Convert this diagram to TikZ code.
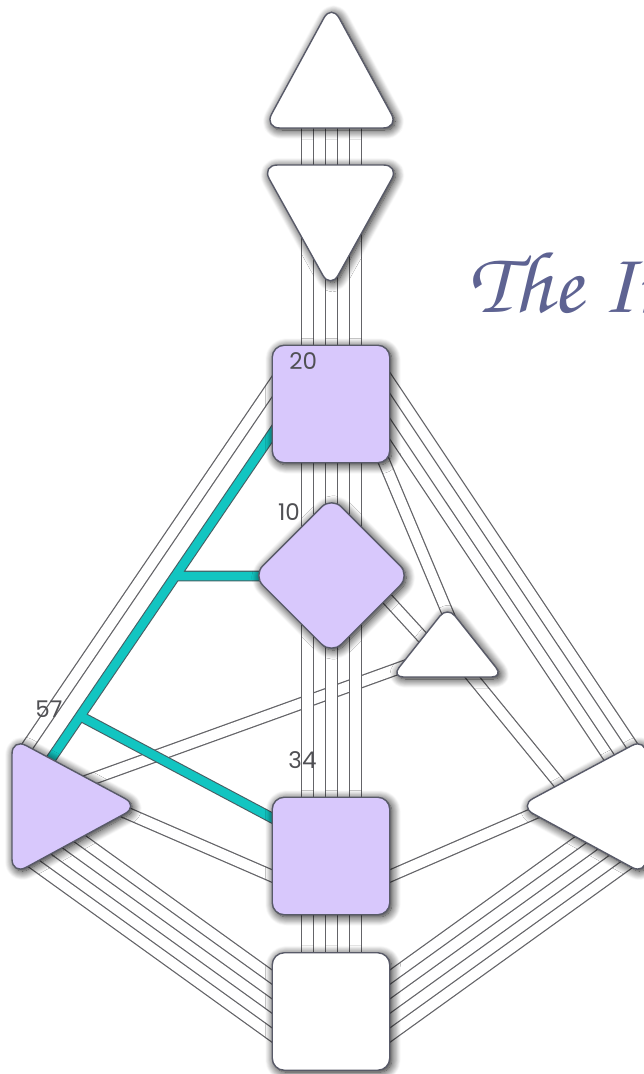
\documentclass[tikz,border=0pt]{standalone}
\usepackage[T1,TU]{fontenc}
\usepackage{fontspec}
\usetikzlibrary{shadows.blur}
\pgfdeclarelayer{background}
\pgfsetlayers{background,main}
\newfontfamily\gatefont{Poppins}
\newcommand{\handfont}{\fontencoding{T1}\fontfamily{pzc}\fontseries{mb}\fontshape{it}\selectfont}
\definecolor{centrefill}{RGB}{216,200,252}
\definecolor{integration}{RGB}{18,197,193}
\definecolor{integrationedge}{RGB}{70,95,100}
\definecolor{channeledge}{RGB}{100,100,104}
\definecolor{centreedge}{RGB}{88,90,104}
\definecolor{gatetext}{RGB}{80,80,84}
\definecolor{titletext}{RGB}{94,99,146}

\begin{document}
\begin{tikzpicture}[x=1pt,y=-1pt,
							centre/.style={draw=centreedge, line width=1.4pt, fill=white, rounded corners=12pt,
								blur shadow={shadow xshift=2pt, shadow yshift=-2pt, shadow blur radius=9pt, shadow opacity=95, shadow blur steps=12}},
							box/.style={centre, rectangle, minimum size=117.5pt, inner sep=0pt},
							channel/.style={draw=channeledge, line width=1.25pt, double=white, double distance=10.3pt},
							integ/.style={draw=integrationedge, line width=1.1pt, double=integration, double distance=8.5pt},
							gate/.style={font=\gatefont\fontsize{23}{23}\selectfont, text=gatetext, inner sep=0pt},
							]
							\useasboundingbox (0,0) rectangle (644,1074);
							%Gates
							\foreach \gx [count=\i] in {307.5,331.5,355.5}{
								\coordinate (headgate\i)     at (\gx,120);
								\coordinate (ajnatop\i)      at (\gx,175);
								\coordinate (ajnabottom\i)   at (\gx,230);
								\coordinate (throattop\i)    at (\gx,360);
								\coordinate (throatbottom\i) at (\gx,450);
								\coordinate (gtop\i)         at (\gx,540);
								\coordinate (gbottom\i)      at (\gx,610);
								\coordinate (sacraltop\i)    at (\gx,810);
								\coordinate (sacralbottom\i) at (\gx,905);
								\coordinate (roottop\i)      at (\gx,960);
							}
							\coordinate (g16) at (283.3,370);   \coordinate (g48) at (18,760);
							\coordinate (g20) at (282.8,418);   \coordinate (g57) at (40,775);
							\coordinate (j10) at (175.3,576);   \coordinate (g10) at (290,576);
							\coordinate (j34) at (80.1,716);    \coordinate (g34) at (290,827.5);
							\coordinate (g44) at (80,783.3);    \coordinate (g26) at (410,664.2);
							\coordinate (g50) at (110,805.7);   \coordinate (g27) at (290,883.8);
							\coordinate (g6)  at (552,805.7);   \coordinate (g59) at (372,883.8);
							\coordinate (g32) at (70,831.6);    \coordinate (g54) at (290,990);
							\coordinate (g28) at (50,846.2);    \coordinate (g38) at (290,1019);
							\coordinate (g18) at (25,857.2);    \coordinate (g58) at (290,1048);
							\coordinate (g49) at (592,831.6);   \coordinate (g19) at (372,990);
							\coordinate (g55) at (612,846.2);   \coordinate (g39) at (372,1019);
							\coordinate (g30) at (637,857.2);   \coordinate (g41) at (372,1048);
							\coordinate (g35) at (381.3,370);   \coordinate (g36) at (641.5,760);
							\coordinate (g12) at (380.7,415);   \coordinate (g22) at (620.8,775);
							\coordinate (g45) at (374.9,440);   \coordinate (g21) at (452.7,625);
							\coordinate (g25) at (370.6,580.7); \coordinate (g51) at (435,651);
							\coordinate (g40) at (458.3,660);   \coordinate (g37) at (572.7,800);

							%Centres
							\path[centre, rounded corners=16pt] (331.5,128) -- (399,128) -- (331.5,4) -- (264,128) -- cycle;
							\path[centre, rounded corners=16pt] (330.5,165) -- (261.5,165) -- (330.5,289) -- (399.5,165) -- cycle;
							\node[box, fill=centrefill] (throat) at (331,404) {};
							\path[centre, rounded corners=12pt] (447.5,677) -- (391.5,677) -- (447.5,606.5) -- (503.5,677) -- cycle;
							\node[box, fill=centrefill, rotate=45, minimum size=111pt, rounded corners=14pt] (gself) at (331.5,575.5) {};
							\path[centre, fill=centrefill, rounded corners=16pt] (12,806) -- (12,738) -- (139,806) -- (12,875) -- cycle;
							\path[centre, rounded corners=16pt] (646,806) -- (646,738) -- (519,806) -- (646,875) -- cycle;
							\node[box, fill=centrefill] (sacral) at (331,856) {};
							\node[box] (root) at (331,1011.5) {};

							\node[gate] (label20) at (303.3,361.5) {20};
							\node[gate] (label10) at (289,512) {10};
							\node[gate] (label57) at (49,709) {57};
							\node[gate] (label34) at (302.5,760) {34};
							\node[anchor=base west, inner sep=0pt, text=titletext, font=\handfont\fontsize{88}{88}\selectfont] (title) at (468,312) {The In};

							\begin{pgfonlayer}{background}
							\draw[channel] (g44) -- (g26);
							\foreach \i in {1,2,3}{
								\draw[channel] (headgate\i) -- (ajnatop\i);
								\draw[channel] (ajnabottom\i) -- (throattop\i);
								\draw[channel] (throatbottom\i) -- (gtop\i);
								\draw[channel] (gbottom\i) -- (sacraltop\i);
								\draw[channel] (sacralbottom\i) -- (roottop\i);
							}
							\draw[channel] (g16) -- (g48);
							\draw[channel] (g50) -- (g27);
							\draw[channel] (g6) -- (g59);
							\draw[channel] (g32) -- (g54);
							\draw[channel] (g28) -- (g38);
							\draw[channel] (g18) -- (g58);
							\draw[channel] (g49) -- (g19);
							\draw[channel] (g55) -- (g39);
							\draw[channel] (g30) -- (g41);
							\draw[channel] (g35) -- (g36);
							\draw[channel] (g12) -- (g22);
							\draw[channel] (g45) -- (g21);
							\draw[channel] (g25) -- (g51);
							\draw[channel] (g40) -- (g37);
							\draw[integ] (g20) -- (g57) (j10) -- (g10) (j34) -- (g34);
							\end{pgfonlayer}
						\end{tikzpicture}
\end{document}
